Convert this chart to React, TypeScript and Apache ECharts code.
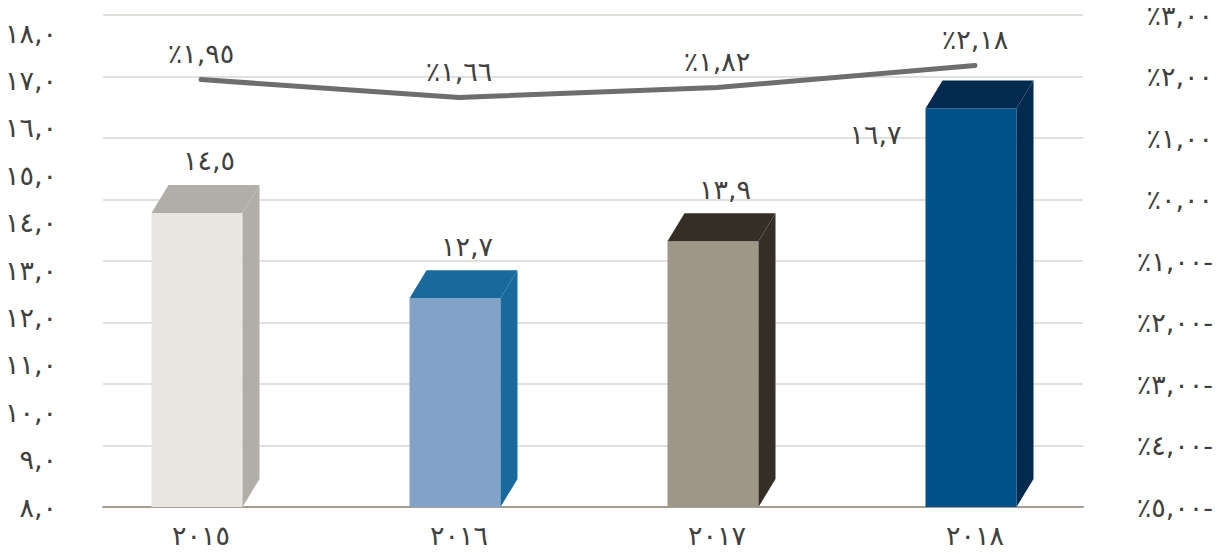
import React, { useEffect, useRef } from "react";
import * as echarts from "echarts";

// ---- data ----
const YEARS = ["2015", "2016", "2017", "2018"];
const BAR_VALUES = [14.5, 12.7, 13.9, 16.7];
const LINE_VALUES = [1.95, 1.66, 1.82, 2.18];
const LEFT_MIN = 8;
const LEFT_MAX = 18;
const LEFT_STEP = 1;
const RIGHT_MIN = -5;
const RIGHT_MAX = 3;
const RIGHT_STEP = 1;

// ---- styles ----
const FRONT_COLORS = ["#E8E6E1", "#82A3C7", "#9E9687", "#00518A"];
const TOP_COLORS = ["#B1AEA8", "#1A699D", "#332F27", "#042A4F"];
const BAR_LABEL_SIDE = ["top", "top", "top", "left"];
const TEXT_COLOR = "#404040";
const FONT = "'DejaVu Sans', sans-serif";
const FONT_SIZE = 27;
const BAR_W = 91;
const DX = 17;
const DY = 28;
const FRONT_SHIFT = -4;

const AR = "٠١٢٣٤٥٦٧٨٩";
const toAr = (s: string) => s.replace(/[0-9]/g, (d) => AR[+d]).replace(".", ",");
const fmtLeft = (v: number) => toAr(v.toFixed(1));
const fmtRight = (v: number) =>
  "٪" + toAr(Math.abs(v).toFixed(2)) + (v < 0 ? "-" : "");
const fmtLine = (v: number) => "٪" + toAr(v.toFixed(2));

export default function App() {
  const ref = useRef<HTMLDivElement>(null);
  useEffect(() => {
    if (!ref.current) return;
    const chart = echarts.init(ref.current, undefined, { renderer: "svg" });
    const renderItem = (params: any, api: any) => {
      const i = params.dataIndex;
      const v = api.value(1);
      const c = api.coord([api.value(0), v]);
      const b = api.coord([api.value(0), LEFT_MIN]);
      const cx = c[0] + FRONT_SHIFT;
      const x0 = cx - BAR_W / 2;
      const x1 = cx + BAR_W / 2;
      const yf = c[1] + DY / 2;
      const yb = c[1] - DY / 2;
      const base = b[1];
      const children: any[] = [
        {
          type: "rect",
          shape: { x: x0, y: yf, width: BAR_W, height: base - yf },
          style: { fill: FRONT_COLORS[i] },
        },
        {
          type: "polygon",
          shape: {
            points: [
              [x0, yf],
              [x0 + DX, yb],
              [x1 + DX, yb],
              [x1, yf],
            ],
          },
          style: { fill: TOP_COLORS[i] },
        },
        {
          type: "polygon",
          shape: {
            points: [
              [x1, yf],
              [x1 + DX, yb],
              [x1 + DX, base - DY],
              [x1, base],
            ],
          },
          style: { fill: TOP_COLORS[i] },
        },
      ];
      const side = BAR_LABEL_SIDE[i];
      children.push({
        type: "text",
        style:
          side === "left"
            ? {
                text: fmtLeft(v),
                x: x0 - 24,
                y: yf + 26,
                align: "right",
                verticalAlign: "middle",
                fill: TEXT_COLOR,
                fontSize: FONT_SIZE,
                fontFamily: FONT,
              }
            : {
                text: fmtLeft(v),
                x: cx + 12,
                y: yb - 24,
                align: "center",
                verticalAlign: "middle",
                fill: TEXT_COLOR,
                fontSize: FONT_SIZE,
                fontFamily: FONT,
              },
      });
      return { type: "group", children };
    };

    chart.setOption({
      animation: false,
      grid: [
        { left: 72, right: 118, top: 33, bottom: 47 },
        { left: 72, right: 118, top: 15, bottom: 47 },
        { left: 103, right: 139, top: 15, bottom: 47 },
      ],
      xAxis: [
        {
          gridIndex: 0,
          type: "category",
          data: YEARS.map(toAr),
          axisLine: { show: false, onZero: false },
          axisTick: { show: false },
          axisLabel: { margin: 15, fontSize: FONT_SIZE, color: TEXT_COLOR, fontFamily: FONT },
        },
        { gridIndex: 1, type: "category", data: YEARS, show: false },
        {
          gridIndex: 2,
          type: "category",
          data: YEARS,
          axisLine: { show: true, onZero: false, lineStyle: { color: "#A59E92", width: 2 } },
          axisTick: { show: false },
          axisLabel: { show: false },
        },
      ],
      yAxis: [
        {
          gridIndex: 0,
          type: "value",
          min: LEFT_MIN,
          max: LEFT_MAX,
          interval: LEFT_STEP,
          position: "left",
          axisLine: { show: false },
          axisTick: { show: false },
          splitLine: { show: false },
          axisLabel: {
            formatter: fmtLeft,
            margin: 15,
            fontSize: FONT_SIZE,
            color: TEXT_COLOR,
            fontFamily: FONT,
          },
        },
        {
          gridIndex: 1,
          type: "value",
          min: RIGHT_MIN,
          max: RIGHT_MAX,
          interval: RIGHT_STEP,
          show: false,
          splitLine: { show: false },
        },
        {
          gridIndex: 2,
          type: "value",
          min: RIGHT_MIN,
          max: RIGHT_MAX,
          interval: RIGHT_STEP,
          position: "right",
          axisLine: { show: false },
          axisTick: { show: false },
          splitLine: { lineStyle: { color: "#E2E0DB", width: 2 } },
          axisLabel: {
            formatter: fmtRight,
            align: "right",
            margin: 130,
            padding: [8, 0, 0, 0],
            fontSize: FONT_SIZE,
            color: TEXT_COLOR,
            fontFamily: FONT,
          },
        },
      ],
      series: [
        {
          type: "custom",
          xAxisIndex: 0,
          yAxisIndex: 0,
          data: BAR_VALUES.map((v, i) => [i, v]),
          encode: { x: 0, y: 1 },
          renderItem,
          z: 2,
        },
        {
          type: "line",
          xAxisIndex: 1,
          yAxisIndex: 1,
          data: LINE_VALUES,
          symbol: "circle",
          symbolSize: 1,
          itemStyle: { color: "#6E6E6E" },
          lineStyle: { color: "#6E6E6E", width: 5, cap: "round" },
          label: {
            show: true,
            position: "top",
            distance: 12,
            formatter: (p: any) => fmtLine(p.value),
            fontSize: FONT_SIZE,
            color: TEXT_COLOR,
            fontFamily: FONT,
          },
          z: 3,
        },
      ],
    });
    return () => chart.dispose();
  }, []);
  return (
    <div
      ref={ref}
      style={{ position: "absolute", left: 0, top: 0, width: 1222, height: 554, background: "#fff" }}
    />
  );
}
